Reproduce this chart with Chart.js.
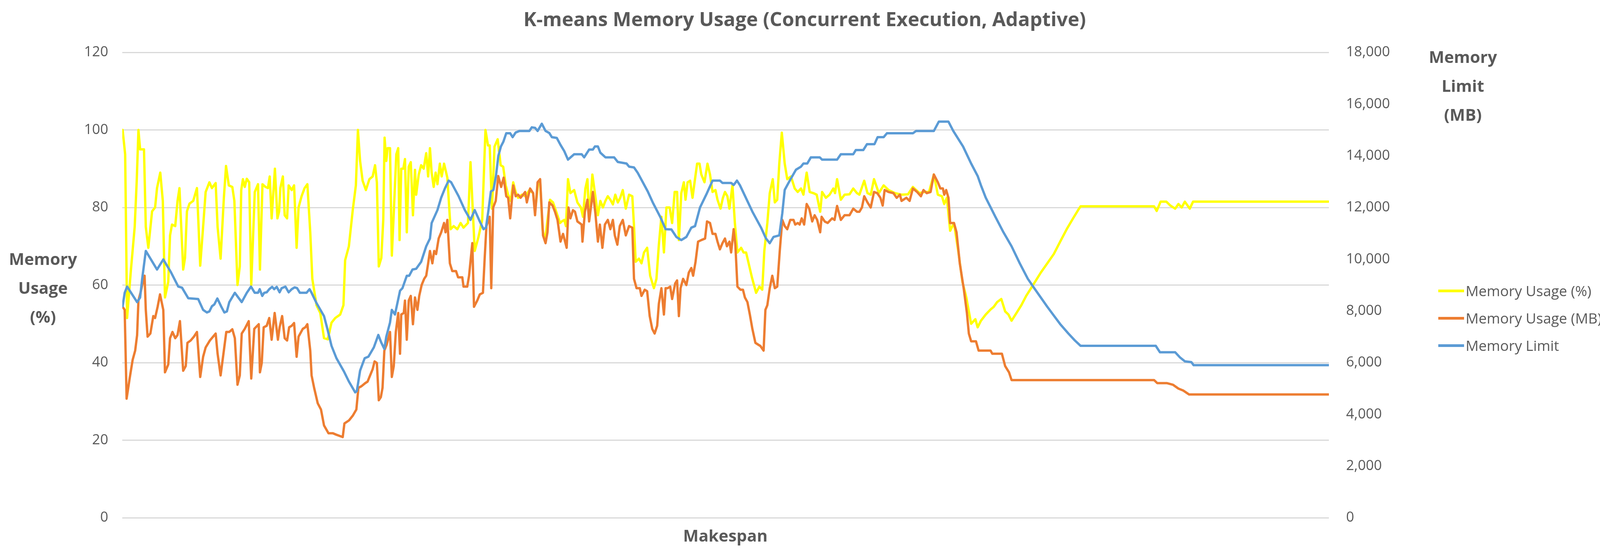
<!DOCTYPE html>
<html>
<head>
<meta charset="utf-8">
<script src="https://cdn.jsdelivr.net/npm/chart.js@4/dist/chart.umd.min.js"></script>
<style>
	html, body { margin: 0; padding: 0; background: #fff; }
	#wrap { position: relative; width: 4120px; height: 1405px; font-family: "Open Sans", "Noto Sans", sans-serif; color: #595959; }
	#chart { position: absolute; left: 0; top: 0; }
	.lbl { position: absolute; white-space: nowrap; }
	.title { left: 0; width: 4120px; top: 14px; text-align: center; font-size: 50px; font-weight: bold; }
	.axisT { font-size: 42px; font-weight: bold; text-align: center; line-height: 74px; width: 260px; }
	.legend { left: 3682px; font-size: 37px; line-height: 70px; }
	.legend div { display: flex; align-items: center; }
	.legend span { display: inline-block; width: 66px; height: 7px; margin-right: 4px; }
</style>
</head>
<body>
<div id="wrap">
	<canvas id="chart" width="4120" height="1405"></canvas>
	<div class="lbl title">K-means Memory Usage (Concurrent Execution, Adaptive)</div>
	<div class="lbl axisT" style="left:-20px; top:625px;">Memory<br>Usage<br>(%)</div>
	<div class="lbl axisT" style="left:3615px; top:108px;">Memory<br>Limit<br>(MB)</div>
	<div class="lbl axisT" style="left:1727px; top:1340px; line-height:60px;">Makespan</div>
	<div class="lbl legend" style="top:709px;">
		<div><span style="background:#ffff00"></span>Memory Usage (%)</div>
		<div><span style="background:#ed7d31"></span>Memory Usage (MB)</div>
		<div><span style="background:#5b9bd5"></span>Memory Limit</div>
	</div>
</div>
<script>
// makespan position (0..1000), value
const usagePct = [
	[0.3,100],[2.4,93.7],[4,51.5],[7.2,64],[10.3,75],[12,87],[13.4,100],[14.8,95],[18,95],[19.5,75],
	[21.6,69.6],[24.7,79],[27.2,80],[28.8,85],[31.5,89],[33.6,81.7],[35.4,56.8],[38.1,60.8],[39.6,72.8],[41.2,75.6],
	[43.9,75.2],[45.8,81.7],[47.4,85],[50.5,64],[52,67],[53.6,79],[55.7,81],[58.8,81.7],[61.9,85],[64.6,65],
	[67,75],[69.1,84],[72.2,86.5],[74.3,85],[77.4,86.3],[79,75],[81.5,66.8],[84.2,82.5],[86,90.7],[88.3,85.7],
	[91.2,85.3],[92.9,81.7],[95.5,60],[97.4,64.8],[98.6,84.5],[100,87.3],[101.5,85.3],[103.2,87.4],[105.2,86.5],[106.9,60],
	[109.8,84],[112.5,86],[114.1,64],[116.2,86],[118.7,85.3],[120.7,85],[122.2,88],[123.8,77.2],[126.5,90],[128.6,77.2],
	[130,79],[131,85],[133.1,88],[134.6,78],[136.6,77.2],[137.9,85.7],[140.4,84.5],[142.4,85.7],[144.5,69.6],[146.1,80],
	[148.6,82.9],[151.1,85],[153.4,86],[155.8,73.6],[157.5,61.6],[161,54.8],[164.1,52.8],[167.2,46.3],[170.3,46],[173.4,50.3],
	[176.5,51.5],[180.6,52.4],[183.3,54.8],[184.7,66.4],[187.8,70],[191,79.3],[193.6,85.7],[195.3,100],[197.1,92],[199.2,86.9],
	[201.9,84.5],[204.8,87.3],[207.5,88],[209.5,90.9],[211,86.5],[212.6,64.8],[214.7,67],[216.3,76.8],[217.4,98],[218.8,92],
	[219.9,95.3],[221.9,95.3],[223.4,67.6],[225,78.5],[227.1,93.7],[228.7,95.3],[229.8,71.6],[231.2,90],[232.9,90],[234.3,92.5],
	[235.8,73.6],[237.4,90.5],[239.1,91.7],[240.9,78],[242.6,89.7],[243.6,83.3],[245.7,88.5],[247.7,90.9],[249.8,90],[251.9,94],
	[253.5,88],[255,95.3],[256.4,89],[258.1,85.3],[259.7,89],[261.2,86],[263.2,91.3],[264.7,88],[266.7,91.3],[269.4,87.7],
	[272.1,74.4],[274.6,75.2],[277.7,74.4],[280.4,76],[282.8,74.8],[286.5,76],[288.6,91.7],[292.1,68.8],[295.2,72.4],[298.3,76.8],
	[301,100],[303.1,96],[304.5,96],
	[306.4,79.7],[308.5,95.7],[311.1,97.6],[313.6,90.9],[315.7,90.5],[317.8,85.7],[319.8,83.3],[321.9,81.7],[324,86.5],[326,84],
	[328.1,82.5],[331.2,83.3],[334.3,82.9],[337.4,84.5],[340.5,83.7],[342.1,78.9],[344.6,86.1],[346.3,86.9],[348.3,74.4],[350.4,71.2],
	[352.4,76.8],[354.5,82],[357,81.3],[360.1,78.5],[362.8,76],[364.2,76.4],[366.3,76.8],[367.7,75.2],[369.4,87.3],[371.4,83.7],
	[374.5,84.5],[377.2,81.3],[380.1,80],[381.8,77.6],[383.8,84.9],[385.5,87.3],[386.9,76.8],[389.6,88.5],[391.7,83.7],[394.2,78],
	[396.2,81.7],[398.3,80],[400.4,81.7],[402.4,82.9],[404.5,82],[406.6,80.8],[408.6,83.3],[410.7,81.3],[412.7,82.5],[414.8,84.5],
	[417.3,79.7],[420,83.3],[422.7,82.9],[424.1,75.2],[425.5,66],[428.2,66.8],[430.3,65.6],[432.4,68.4],[435,69.6],[437.5,62.4],
	[440.6,59.2],[442.7,61.6],[444.7,70.4],[446.8,77.6],[448.9,68.4],[451,80],[453.6,80],[455.7,76],[457.8,84],[459.8,84],
	[461.3,71.6],[463.3,83.7],[465.4,86.5],[466.8,82],[468.5,86.5],[470.6,86.9],[472.6,82.5],[474.3,86.5],[476.4,91.3],[478.4,91.3],
	[479.9,88.5],[482.5,86.5],[485,91.3],[487.1,88.5],[489.2,84],[491.6,84.5],[493.3,82],[495.8,79.7],[497.8,82.5],[499.5,84],
	[501.5,82.9],[503.2,79.7],[505.7,85.7],[507.7,76],[509.8,68.4],[512.9,69.6],[514.9,68.4],[517,68.4],[519.1,65.6],[521.8,62],
	[525.3,58],[528,59.6],[530.4,58.8],[532.1,68.8],[534.6,76],[536.6,83.7],[539.1,87.3],[540.8,81.3],[542.8,82],[544.5,91.3],
	[546.6,99.3],[549,91.3],[551.1,87.3],[554.2,88],[557.3,84.9],[559.8,84],[562.5,84.9],[564.5,83.3],[567.2,89],[569.7,84],
	[572.8,83.7],[575.5,83.3],[578.4,78.9],[580,84],[583.1,82.5],[586.2,83.3],[589.3,84.9],[590.7,83.7],[592.4,87.3],[595.5,82],
	[598.6,83.3],[602.7,83.4],[605.8,84.9],[608.9,83.7],
	[610.9,83.3],[614.9,86.9],[617.6,83.7],[620.3,83.3],[623,87.3],[627,83.7],[631,85.7],[635.1,84.5],[640.4,83.7],[645.8,83.3],
	[651.2,83.4],[655.2,85.3],[660.6,83.7],[664.6,84],[668.6,84],[672.6,88.5],[675.9,83.3],[679.3,82.9],[681.2,80.9],[683.4,82.5],
	[686.1,74],[689.3,76],[692.8,68.8],[696.3,60.8],[699.5,56.8],[703.5,50],[707,51.2],[708.9,49.1],[711.6,50.8],[715.6,52.4],
	[719.6,53.7],[722.3,54.4],[725,55.6],[728.5,56.4],[731.7,53.2],[734.4,52.4],[737,50.8],[741.1,52.8],[745.1,54.8],[749.1,57.2],
	[753.2,59.2],[757.2,61.2],[761.2,63.2],[766.6,65.6],[772,68],[777.3,71.2],[782.7,74.4],[788,77.2],[792.1,79.3],[794.2,80.3],
	[855.1,80.3],[857.3,79.1],[860.5,81.5],[865.3,81.5],[868.6,80.5],[872.6,79.7],[875.3,80.9],[878,80],[880.6,81.5],[884.7,79.7],
	[887.4,81.5],[1000,81.5]
];

const usageMB = [
	[0.3,54.4],[2,53.6],[3.6,30.7],[6.1,35.9],[8.6,40.7],[10.7,43.1],[12.3,47.1],[13.4,56],[15.4,58.4],[17.1,60.8],
	[18.5,62.4],[19.5,53.6],[21,46.7],[23.3,47.5],[25.7,52],[27.2,51.5],[29.3,54.4],[31.3,57.6],[34,53.6],[35.4,37.5],
	[38.1,39.5],[39.6,46.3],[41.6,47.9],[43.9,46.3],[45.8,47.1],[47.8,50.7],[50.5,37.9],[52.6,39.1],[54,45.1],[56.7,45.7],
	[59.4,46.7],[61.9,47.9],[64.6,36.3],[67,41.5],[69.1,43.9],[72.6,45.7],[75.3,46.7],[77.4,47.5],[79,42.3],[81.5,36.7],
	[84.2,43.1],[86.2,47.9],[88.7,47.9],[91.2,48.6],[93.3,46.3],[95.5,34.3],[97.4,36.7],[99,47.5],[101.5,48.7],[104.8,50.7],
	[106.9,35.9],[109.4,48.7],[113.1,49.9],[114.1,37.5],[115.6,39.9],[117.2,49.1],[119.7,49.5],[121.8,51.5],[123.8,45.9],[126.3,52.8],
	[129,45.9],[130.4,49.1],[132.5,52],[134.6,46.3],[136.6,45.7],[138.3,49.1],[140.4,49.5],[142.4,50.2],[144.5,41.5],[146.1,46.7],
	[149.6,48.7],[151.7,49.1],[153.4,49.9],[155.8,43.1],[156.9,36.7],[159,33.5],[162,29.5],[164.7,27.9],[167.2,23.8],[170.9,21.8],
	[174.4,21.8],[177.5,21.4],[182.7,20.8],[184.1,24.3],[187.9,25.1],[191,26.3],[194,27.9],[195.7,33.5],[198.2,33.9],[201.3,34.7],
	[203.3,35.1],[205.4,36.7],[207.5,38.3],[209.1,40.3],[211,39.9],[212.6,30.3],[214.3,31.1],[215.7,33.5],[217.2,43.1],[219.2,44.7],
	[221.9,47.9],[223.4,36.3],[225,39.1],[226.7,47.9],[228.7,52.8],[230.2,42.3],[231.2,52.4],[233.3,52.8],[234.3,56],[235.8,45.9],
	[237.4,56],[239.1,57.2],[240.9,49.9],[242.6,56.8],[244.6,53.6],[246.1,57.2],[248.1,60],[250.2,61.6],[251.9,62.4],[253.5,65.6],
	[255,68.8],[257,65.6],[258.5,68.8],[260.1,68],[262.2,72],[264.3,73.6],[266.7,76],[267.9,73.6],[269.4,76.8],[271.5,65.6],
	[273.5,63.6],[276.6,63.6],[278.3,62],[281.8,62],[282.8,59.6],[285.9,59.6],[287.4,62.4],[290.1,70.8],[291.5,54.4],[294.2,56],
	[296.3,57.6],[298.9,58],[300.4,67.2],[301.8,75.2],[304.5,77.6],
	[305.8,59.2],[307.4,80],[309.5,81.7],[311.6,88.1],[314,85.3],[316.1,87.7],[318.2,82.9],[319.8,82.5],[321.5,77.2],[324,85.7],
	[326,82.9],[328.1,83.3],[330.1,82.5],[332.2,83.3],[333.9,84],[335.3,81.3],[338,84.9],[340.5,83.7],[342.1,78],[344.2,86.5],
	[346.3,87.3],[348.7,72.8],[350.8,70.8],[352.4,73.6],[353.9,81.3],[356.6,80.5],[358.6,78.9],[360.7,76.8],[363.2,71.2],[365.3,73.2],
	[368.3,69.6],[369.8,80],[371.4,77.2],[373.5,79.3],[375.2,78.9],[377.2,76.4],[380.7,75.6],[381.4,71.2],[383.4,78.9],[385.5,82],
	[386.9,76.4],[390,84],[392.1,78.5],[394.2,71.2],[395.8,75.6],[397.9,69.6],[400,75.6],[402.4,76.8],[404.5,74.4],[406.6,76.8],
	[408.2,72.8],[410.3,70.4],[412.3,75.2],[414.8,76.8],[417.3,72.8],[420,75.2],[422.7,74.8],[424.1,61.6],[426.2,59.2],[428.9,59.2],
	[430.3,57.2],[433,58.8],[435,58.4],[437.1,52],[439.2,48.7],[441.2,47.5],[443.3,49.5],[444.7,55.2],[446.8,59.2],[448.9,52.4],
	[450.3,59.2],[452,59.2],[454.1,59.6],[455.7,56.4],[458.2,60.4],[459.8,61.2],[461.3,52],[462.7,59.2],[464.8,61.6],[467.5,60],
	[469.5,63.2],[471.6,64.4],[473.1,62.4],[475.1,66],[477.2,71.2],[479.9,71.6],[483,72],[484.6,76.4],[487.1,76],[489.2,73.2],
	[491.6,73.2],[493.3,71.2],[495.3,69.2],[497.4,70.8],[499.5,72],[501.1,70],[503.2,71.2],[504.6,68.4],[506.7,74.4],[508.1,70.4],
	[509.8,59.6],[512.3,58.8],[514.4,58.8],[516,56.8],[518.1,55.6],[520.1,52.4],[522.2,48.7],[524.7,45.1],[526.7,44.7],[528.8,44.3],
	[531.5,43.1],[533,53.6],[534.6,54.8],[536.6,59.2],[538.7,62.4],[540.8,59.2],[542.8,59.6],[544.9,68.8],[547,76.8],[549,75.2],
	[551.1,74.4],[553.6,76.8],[556.3,76.8],[557.7,75.6],[559.8,76],[561.4,75.6],[563.1,77.2],[565.1,75.6],[567.2,80.9],[569.3,79.7],
	[571.8,76.4],[573.8,78],[575.9,76.8],[578.4,73.6],[579.6,77.6],[582.1,76.4],[584.6,76],[588.3,77.2],[590.3,76.8],[592.4,80.4],
	[595.5,76.8],[598.6,78],[602.7,78],[605.8,79.7],[608.9,78.9],
	[610.9,78.9],[613,80],[614.9,82.9],[617.6,81.3],[620.3,80],[623,84],[625.7,83.7],[628.3,82.5],[630.2,80.5],[631.8,84.5],
	[635.1,84],[639.1,83.7],[641.8,82.5],[644.5,83.3],[645.8,81.7],[649.8,82.5],[652.5,81.7],[655.2,84.9],[658.7,84],[661.9,82.9],
	[664,84.5],[666.7,83.7],[669.9,84],[672.6,88.5],[675.9,86.5],[678,84.9],[680.1,84.9],[681.2,83.3],[682.8,84.5],[684.7,82.5],
	[686.1,76],[689.3,76],[691.4,73.6],[694.1,65.6],[697.3,59.2],[700,52.8],[701.6,47.5],[703.5,45.5],[707.5,45.5],[709.7,43.1],
	[719.6,43.1],[721,42.3],[729,42.3],[731.7,39.1],[734.9,37.5],[737,35.5],[855.1,35.5],[857.8,34.7],[865.9,34.7],[870.7,34.3],
	[875.3,33.3],[879.3,32.8],[884.1,31.8],[1000,31.8]
];

const memLimit = [
	[0.3,8180],[2,8700],[4,8940],[12.3,8340],[14.8,8520],[16.5,9240],[19.5,10320],[28.8,9600],[34,9990],[40.2,9510],
	[46.4,8940],[49.5,8900],[54.7,8490],[62.9,8460],[67,8040],[70.1,7940],[72.2,7980],[74.3,8180],[76.3,8250],[78.8,8480],
	[82.1,8160],[84.6,7940],[86.7,7980],[88.7,8340],[93.3,8700],[99,8340],[103.2,8700],[106.7,8940],[109.8,8700],[112.5,8700],
	[113.9,8840],[116,8580],[117.6,8700],[119.7,8720],[121.8,8840],[124.2,8930],[125.9,8840],[128,8930],[130.4,8720],[132.1,8880],
	[135.2,8940],[137.9,8720],[140.4,8840],[142.8,8910],[144.9,8880],[147.2,8700],[152.7,8700],[155.2,8840],[156.9,8700],[161,8300],
	[167.2,7800],[170.3,7250],[173.4,6650],[177.5,6170],[183.7,5660],[187.8,5270],[193,4850],[194.4,4900],[197.1,5690],[200.9,6170],
	[204,6230],[208.5,6590],[212.2,7070],[214.7,6770],[217.2,6530],[218.8,7000],[221.9,7550],[223.4,8040],[226,7860],[230.2,8780],
	[232.2,8880],[235.8,9360],[237.8,9360],[240.5,9600],[243.6,9630],[247.7,9900],[251.9,10500],[255,10800],[256.4,11400],[261.2,11900],
	[264.3,12380],[267.4,12740],[270.5,13040],[272.5,12980],[278.7,12440],[283.9,11900],[288.6,11520],[292.1,11900],[296.3,11460],[299.4,11160],
	[301.4,11220],[303.5,11900],[305.5,12620],[307.6,12680],[309.7,13220],[311.7,14000],[313.8,14360],[315.8,14540],[318.2,14870],[321.5,14870],
	[323.5,14720],[326,14900],[329.1,14960],[337.4,14960],[339.4,15100],[342.1,15080],[344.2,14960],[347.7,15240],[350.8,14960],[353.9,14880],
	[356,14720],[360.1,14690],[363.2,14420],[366.3,14180],[369.4,13850],[374.5,14060],[380.7,14060],[382.8,13940],[386.9,14240],[390,14240],
	[391.7,14360],[394.2,14360],[396.2,14120],[400.4,13940],[407.6,13940],[410.7,13760],[417.9,13700],[420,13580],[424.1,13550],[427.2,13340],
	[435.5,12620],[439.6,12200],[445.8,11640],[450.3,11160],[455.1,11150],[459.2,10860],[463.3,10740],[467.5,10860],[471.6,11220],[474.7,11280],
	[478.8,12000],[484,12500],[489.2,13040],[495.3,13040],[497.4,12950],[504.6,12950],[506.7,12870],[509.4,13040],[511.9,12860],[522.2,11840],
	[529.4,11220],[533.5,10800],[536.6,10620],[539.7,10860],[544.5,10920],[547,11780],[549,12680],[553.2,13040],[558.3,13460],[562.5,13580],
	[564.5,13700],[567.7,13700],[570.7,13940],[578,13940],[580,13850],[592.4,13850],[595.5,14060],[605.8,14060],[607.9,14220],[614.1,14220],
	[617.2,14450],[623.4,14450],[626,14720],[631,14720],[633.7,14870],[655.2,14870],[657.9,14960],[672.6,14960],[676.7,15320],[684.7,15320],
	[688.7,14960],[696.8,14360],[703.5,13700],[708.9,13220],[711.6,12860],[715.6,12380],[723.6,11640],[730.3,11040],[737,10500],[743.8,9840],
	[750.5,9240],[755.8,8880],[761.2,8520],[766.6,8160],[772,7820],[777.3,7490],[784,7130],[789.4,6860],[794.2,6650],[856.5,6650],
	[860,6400],[872.6,6400],[876.6,6200],[880.6,6050],[886,6020],[887.9,5900],[1000,5900]
];

const pctTicks = [0, 20, 40, 60, 80, 100, 120];
const mbTicks = [0, 2000, 4000, 6000, 8000, 10000, 12000, 14000, 16000, 18000];

const toPoints = (rows) => rows.map(([x, y]) => ({ x, y }));

const tickFont = { family: "Open Sans", size: 36 };
const tickColor = "#595959";

new Chart(document.getElementById("chart"), {
	type: "line",
	data: {
		datasets: [
			{ label: "Memory Usage (%)", data: toPoints(usagePct), borderColor: "#ffff00", yAxisID: "y", order: 3 },
			{ label: "Memory Usage (MB)", data: toPoints(usageMB), borderColor: "#ed7d31", yAxisID: "y", order: 2 },
			{ label: "Memory Limit", data: toPoints(memLimit), borderColor: "#5b9bd5", yAxisID: "y2", order: 1 }
		]
	},
	options: {
		responsive: false,
		animation: false,
		devicePixelRatio: 1,
		elements: {
			point: { radius: 0 },
			line: { borderWidth: 6, tension: 0, borderJoinStyle: "round", borderCapStyle: "round" }
		},
		layout: { padding: { top: 134, bottom: 80, left: 0, right: 0 } },
		plugins: { legend: { display: false }, title: { display: false }, tooltip: { enabled: false } },
		scales: {
			x: { type: "linear", min: 0, max: 1000, display: false },
			y: {
				position: "left",
				min: 0, max: 120,
				afterBuildTicks: (s) => { s.ticks = pctTicks.map((v) => ({ value: v })); },
				afterFit: (s) => { s.width = 313; },
				ticks: { font: tickFont, color: tickColor, padding: 36 },
				grid: { color: "#d9d9d9", lineWidth: 3, drawTicks: false },
				border: { display: false }
			},
			y2: {
				position: "right",
				min: 0, max: 18000,
				afterBuildTicks: (s) => { s.ticks = mbTicks.map((v) => ({ value: v })); },
				afterFit: (s) => { s.width = 718; },
				ticks: { font: tickFont, color: tickColor, padding: 44 },
				grid: { display: false, drawTicks: false },
				border: { display: false }
			}
		}
	}
});
</script>
</body>
</html>
